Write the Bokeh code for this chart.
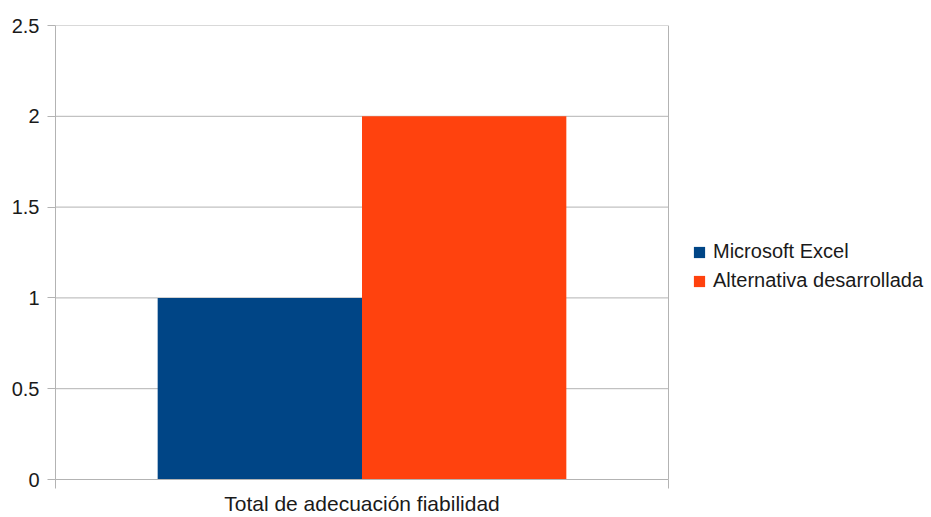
from bokeh.plotting import figure
from bokeh.models import (ColumnDataSource, Range1d, FixedTicker, LinearAxis,
                          Legend, LegendItem, Span)
from bokeh.embed import file_html
from bokeh.resources import INLINE

category = "Total de adecuación fiabilidad"
series_names = ["Microsoft Excel", "Alternativa desarrollada"]
series_values = [1, 2]
series_colors = ["#004586", "#ff420e"]
y_ticks = [0, 0.5, 1, 1.5, 2, 2.5]

W, H = 931, 517
left, right_plot, top, bottom = 55, 668, 25, 36
cat_px = right_plot - left            # pixel width of the category (0..1)
frame_px = W - left                   # frame extends to the window edge to host the legend
p = figure(width=W, height=H, output_backend="svg", toolbar_location=None,
           x_range=Range1d(0, frame_px / cat_px), y_range=Range1d(0, 2.5),
           min_border_left=left, min_border_right=0, min_border_top=top,
           min_border_bottom=bottom, x_axis_type=None, y_axis_type=None)
p.outline_line_color = None
p.background_fill_color = "white"
p.border_fill_color = "white"

grey = "#b3b3b3"
font = "Liberation Sans"
txt = "#1a1a1a"

# grid lines limited to the plot area (category 0..1)
p.xgrid.grid_line_color = None
p.ygrid.grid_line_color = None
p.segment(x0=[0] * len(y_ticks), x1=[1] * len(y_ticks), y0=y_ticks, y1=y_ticks,
          line_color=grey, line_width=1)
p.add_layout(Span(location=1, dimension="height", line_color=grey, line_width=1))

# bars: group centred in the category (0..1), total width 2/3
n = len(series_values)
bw = (2 / 3) / n
renderers = []
for i, (v, c) in enumerate(zip(series_values, series_colors)):
    x = 0.5 - (2 / 3) / 2 + bw * (i + 0.5)
    src = ColumnDataSource(dict(x=[x], top=[v]))
    r = p.vbar(x="x", top="top", bottom=0, width=bw, source=src,
               fill_color=c, line_color=None)
    renderers.append(r)

# y axis
yax = LinearAxis(ticker=FixedTicker(ticks=y_ticks))
yax.axis_line_color = grey
yax.major_tick_line_color = grey
yax.major_tick_out = 8
yax.major_tick_in = 0
yax.minor_tick_line_color = None
yax.major_label_text_font = font
yax.major_label_text_font_size = "20px"
yax.major_label_text_color = txt
yax.major_label_standoff = 8
p.add_layout(yax, "left")

# x axis: label at centre, tick marks at category boundaries
xax = LinearAxis(ticker=FixedTicker(ticks=[0.5], minor_ticks=[0, 1]), bounds=(0, 1))
xax.major_label_overrides = {0.5: category}
xax.axis_line_color = grey
xax.major_tick_line_color = None
xax.major_tick_out = 0
xax.minor_tick_line_color = grey
xax.minor_tick_out = 9
xax.minor_tick_in = 0
xax.major_label_text_font = font
xax.major_label_text_font_size = "21px"
xax.major_label_text_color = txt
xax.major_label_standoff = 3
p.add_layout(xax, "below")

legend = Legend(items=[LegendItem(label=s, renderers=[r]) for s, r in zip(series_names, renderers)],
                location=(692 - left, 187))
legend.border_line_color = None
legend.background_fill_alpha = 0
legend.padding = 0
legend.margin = 0
legend.glyph_width = 14
legend.glyph_height = 14
legend.label_height = 16
legend.label_standoff = 7
legend.spacing = 6
legend.label_text_font = font
legend.label_text_font_size = "20px"
legend.label_text_color = txt
p.add_layout(legend)

open("out.html", "w").write(file_html(p, INLINE))
